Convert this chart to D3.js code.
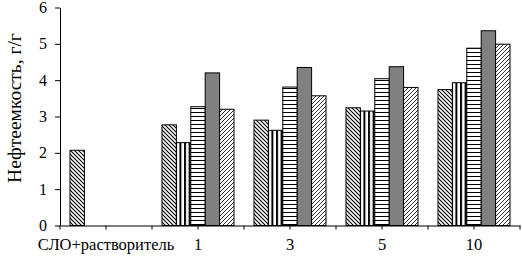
<!DOCTYPE html>
<html>
<head>
<meta charset="utf-8">
<script src="https://cdn.jsdelivr.net/npm/d3@7"></script>
<style>
  body { margin: 0; background: #fff; }
  svg { display: block; }
  svg text { font-family: "Liberation Serif", "Times New Roman", serif; fill: black; }
</style>
</head>
<body>
<div id="display"></div>
<script>
let w = 522;
let h = 256;

// categories on the x axis
const categories = ['СЛО+растворитель', '1', '3', '5', '10'];
// five series per category (null = no bar)
const s1 = [2.07, 2.77, 2.90, 3.24, 3.74];
const s2 = [null, 2.28, 2.62, 3.15, 3.93];
const s3 = [null, 3.27, 3.81, 4.04, 4.88];
const s4 = [null, 4.20, 4.35, 4.37, 5.36];
const s5 = [null, 3.20, 3.57, 3.80, 4.99];
const seriesNames = ['s1', 's2', 's3', 's4', 's5'];
const yTicks = [0, 1, 2, 3, 4, 5, 6];

const allSeries = [s1, s2, s3, s4, s5];

let viz = d3.select('#display')
            .append('svg')
                .attr('width', w)
                .attr('height', h)
                .style('background-color', 'white');

// patterns for the fills
let defs = viz.append('defs');

const diag = (id, dir, sw) => {
    let p = defs.append('pattern')
        .attr('id', id)
        .attr('patternUnits', 'userSpaceOnUse')
        .attr('width', 4).attr('height', 4);
    p.append('rect').attr('width', 4).attr('height', 4).attr('fill', 'white');
    let d = dir > 0
        ? 'M-1,1 l2,-2 M0,4 l4,-4 M3,5 l2,-2'
        : 'M-1,3 l2,2 M0,0 l4,4 M3,-1 l2,2';
    p.append('path').attr('d', d).attr('stroke', 'black').attr('stroke-width', sw);
};
diag('hatchBack', -1, 1.1);
diag('hatchFwd', 1, 0.8);

let pv = defs.append('pattern')
    .attr('id', 'vert')
    .attr('patternUnits', 'userSpaceOnUse')
    .attr('width', 4.6).attr('height', 4);
pv.append('rect').attr('width', 4.6).attr('height', 4).attr('fill', 'white');
pv.append('rect').attr('x', 0).attr('width', 2).attr('height', 4).attr('fill', 'black');

let ph = defs.append('pattern')
    .attr('id', 'horiz')
    .attr('patternUnits', 'userSpaceOnUse')
    .attr('width', 4).attr('height', 4);
ph.append('rect').attr('width', 4).attr('height', 4).attr('fill', 'white');
ph.append('rect').attr('y', 0).attr('width', 4).attr('height', 1).attr('fill', 'black');

const fills = ['url(#hatchBack)', 'url(#vert)', 'url(#horiz)', '#808080', 'url(#hatchFwd)'];

let xScale = d3.scaleBand().domain(categories).range([60, 520]);
let xInner = d3.scaleBand().domain(seriesNames)
    .range([10, xScale.bandwidth() - 10]);
let yScale = d3.scaleLinear().domain([0, 6]).range([225.5, 7.5]);

// bars
let rows = [];
categories.forEach((c, i) => {
    allSeries.forEach((s, j) => {
        if (s[i] != null) rows.push({ cat: c, ser: seriesNames[j], v: s[i], fill: fills[j] });
    });
});

viz.append('g')
    .selectAll('rect')
    .data(rows)
    .join('rect')
        .attr('x', (d) => xScale(d.cat) + xInner(d.ser))
        .attr('y', (d) => yScale(d.v))
        .attr('width', xInner.bandwidth())
        .attr('height', (d) => yScale(0) - yScale(d.v))
        .attr('fill', (d) => d.fill)
        .attr('stroke', 'black')
        .attr('stroke-width', 1);

// y axis
let yAxis = d3.axisLeft(yScale).tickValues(yTicks).tickFormat(d3.format('d'))
    .tickSize(5).tickPadding(8).tickSizeOuter(0);
let yg = viz.append('g')
    .attr('class', 'yaxis')
    .attr('transform', 'translate(' + 60 + ',' + 0 + ')')
    .call(yAxis)
    .attr('font-family', null)
    .attr('font-size', 16);
yg.selectAll('line, path').attr('stroke', 'black');

// x axis: ticks at the category centres, plus ticks at the boundaries
let xAxis = d3.axisBottom(xScale).tickSize(4).tickPadding(9).tickSizeOuter(0);
let xg = viz.append('g')
    .attr('class', 'xaxis')
    .attr('transform', 'translate(' + 0 + ',' + yScale(0) + ')')
    .call(xAxis)
    .attr('font-family', null)
    .attr('font-size', 16.5);
xg.selectAll('line, path').attr('stroke', 'black');
xg.selectAll('.edge')
    .data(categories.concat(['end']))
    .join('line')
        .attr('class', 'edge')
        .attr('x1', (d) => d === 'end' ? xScale.range()[1] : xScale(d))
        .attr('x2', (d) => d === 'end' ? xScale.range()[1] : xScale(d))
        .attr('y1', 0).attr('y2', 4)
        .attr('stroke', 'black');

// y axis title
viz.append('text')
    .attr('transform', 'translate(' + 21 + ',' + 108 + ') rotate(-90)')
    .attr('text-anchor', 'middle')
    .style('font-size', '19.5px')
    .text('Нефтеемкость, г/г');
</script>
</body>
</html>
